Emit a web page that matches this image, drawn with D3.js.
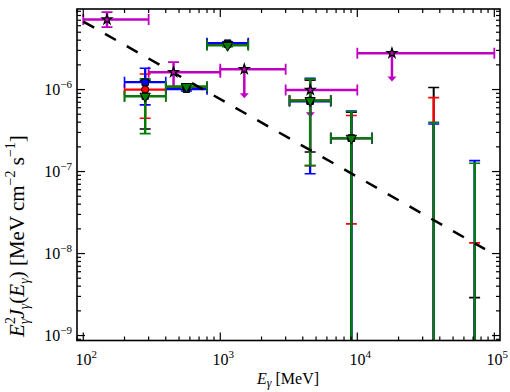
<!DOCTYPE html>
<html>
<head>
<meta charset="utf-8">
<script src="https://cdn.jsdelivr.net/npm/d3@7"></script>
<style>
  body { margin: 0; background: #fff; }
  text { font-family: "Liberation Serif", "Times New Roman", serif; fill: #000; }
</style>
</head>
<body>
<div id="chart"></div>
<script>
// energy bins shared by the four analyses (MeV)
var binE = [283, 566, 1131, 4525, 9050, 36100, 71800]
var binLo = [200, 400, 800, 3200, 6400, null, null]
var binHi = [400, 800, 1600, 6400, 12800, null, null]

// E^2 J values, upper and lower error ends (1e-10 = runs off the bottom)
var blackF = [8.3e-7, 1.06e-6, 3.58e-6, 7.34e-7, 2.55e-7, null, null]
var blackUp = [1.3e-6, 1.11e-6, 3.72e-6, 1.3e-6, 5.3e-7, 1.06e-6, 2.9e-9]
var blackDn = [3.3e-7, 1.01e-6, 3.45e-6, 1.73e-7, 1e-10, 1e-10, 1e-10]

var redF = [1.0e-6, 1.05e-6, 3.58e-6, 7.34e-7, 2.55e-7, null, null]
var redUp = [1.55e-6, 1.1e-6, 3.72e-6, 1.33e-6, 4.82e-7, 7.98e-7, 1.35e-8]
var redDn = [4.47e-7, 1.0e-6, 3.45e-6, 1.18e-7, 2.3e-8, 1e-10, 1e-10]

var blueF = [1.23e-6, 1.01e-6, 3.68e-6, 7.2e-7, 2.55e-7, null, null]
var blueUp = [1.82e-6, 1.06e-6, 3.82e-6, 1.37e-6, 5.45e-7, 3.8e-7, 1.36e-7]
var blueDn = [6.5e-7, 0.96e-6, 3.55e-6, 9.4e-8, 1e-10, 1e-10, 1e-10]

var greenF = [8.3e-7, 1.09e-6, 3.46e-6, 7.34e-7, 2.55e-7, null, null]
var greenUp = [1.35e-6, 1.14e-6, 3.6e-6, 1.34e-6, 5.4e-7, 4.0e-7, 1.26e-7]
var greenDn = [2.9e-7, 1.04e-6, 3.33e-6, 1.18e-7, 1e-10, 1e-10, 1e-10]

// magenta points (stars), some are upper limits
var magE = [149, 456, 1497, 4540, 17900]
var magLo = [100, 300, 1000, 3000, 10000]
var magHi = [300, 1000, 3000, 10000, 100000]
var magF = [7.15e-6, 1.63e-6, 1.77e-6, 9.9e-7, 2.78e-6]
var magUp = [8.8e-6, 2.16e-6, null, null, null]
var magDn = [5.77e-6, 1.07e-6, null, null, null]
var magUL = [null, null, 7.85e-7, 4.6e-7, 1.25e-6]

// dashed power-law model
var modelE = [100, 85500]
var modelF = [6.75e-6, 1.13e-8]

var xTicks = [1e2, 1e3, 1e4, 1e5]
var yTicks = [1e-9, 1e-8, 1e-7, 1e-6]

var W = 510, H = 392
var plot = { left: 77, right: 500, top: 9, bottom: 340.5 }

var svg = d3.select('#chart').append('svg')
  .attr('width', W).attr('height', H)

var x = d3.scaleLog().domain([90, 1.1e5]).range([plot.left, plot.right])
var y = d3.scaleLog().domain([8.7e-10, 9.6e-6]).range([plot.bottom, plot.top])

svg.append('clipPath').attr('id', 'clip')
  .append('rect')
  .attr('x', plot.left).attr('y', plot.top)
  .attr('width', plot.right - plot.left).attr('height', plot.bottom - plot.top)

var g = svg.append('g').attr('clip-path', 'url(#clip)')
var gLines = g.append('g')
var gModel = g.append('g')
var gMarks = g.append('g')

var capW = 5.5

function inY(v) { return v > y.domain()[0] && v < y.domain()[1] }

function errLines(F, up, dn, color, lw) {
  for (var i = 0; i < binE.length; i++) {
    var cx = x(binE[i])
    gLines.append('line')
      .attr('x1', cx).attr('x2', cx)
      .attr('y1', y(up[i])).attr('y2', y(dn[i]))
      .attr('stroke', color).attr('stroke-width', lw)
    ;[up[i], dn[i]].forEach(function (v) {
      if (!inY(v)) return
      gLines.append('line')
        .attr('x1', cx - capW).attr('x2', cx + capW)
        .attr('y1', y(v)).attr('y2', y(v))
        .attr('stroke', color).attr('stroke-width', 1.6)
    })
    if (F[i] == null || binLo[i] == null) continue
    var cy = y(F[i])
    gLines.append('line')
      .attr('x1', x(binLo[i])).attr('x2', x(binHi[i]))
      .attr('y1', cy).attr('y2', cy)
      .attr('stroke', color).attr('stroke-width', lw)
    ;[binLo[i], binHi[i]].forEach(function (v) {
      gLines.append('line')
        .attr('x1', x(v)).attr('x2', x(v))
        .attr('y1', cy - capW).attr('y2', cy + capW)
        .attr('stroke', color).attr('stroke-width', 1.6)
    })
  }
}

function errMarkers(F, color, type, size, rot) {
  for (var i = 0; i < binE.length; i++) {
    if (F[i] == null) continue
    gMarks.append('path')
      .attr('d', d3.symbol().type(type).size(size)())
      .attr('transform', 'translate(' + x(binE[i]) + ',' + y(F[i]) + ') rotate(' + rot + ')')
      .attr('fill', color).attr('stroke', '#000').attr('stroke-width', 1)
  }
}

// magenta bars and upper limits
var MAG = '#c000c0'
for (var i = 0; i < magE.length; i++) {
  var cx = x(magE[i]), cy = y(magF[i])
  gLines.append('line')
    .attr('x1', x(magLo[i])).attr('x2', x(magHi[i]))
    .attr('y1', cy).attr('y2', cy)
    .attr('stroke', MAG).attr('stroke-width', 2.5)
  ;[magLo[i], magHi[i]].forEach(function (v) {
    gLines.append('line')
      .attr('x1', x(v)).attr('x2', x(v))
      .attr('y1', cy - capW).attr('y2', cy + capW)
      .attr('stroke', MAG).attr('stroke-width', 1.8)
  })
  if (magUL[i] == null) {
    gLines.append('line')
      .attr('x1', cx).attr('x2', cx)
      .attr('y1', y(magUp[i])).attr('y2', y(magDn[i]))
      .attr('stroke', MAG).attr('stroke-width', 2.5)
    ;[magUp[i], magDn[i]].forEach(function (v) {
      gLines.append('line')
        .attr('x1', cx - capW).attr('x2', cx + capW)
        .attr('y1', y(v)).attr('y2', y(v))
        .attr('stroke', MAG).attr('stroke-width', 1.8)
    })
  } else {
    var ye = y(magUL[i])
    gLines.append('line')
      .attr('x1', cx).attr('x2', cx)
      .attr('y1', cy).attr('y2', ye - 3)
      .attr('stroke', MAG).attr('stroke-width', 2.5)
    gLines.append('path')
      .attr('d', 'M' + (cx - 4.5) + ',' + (ye - 5) + 'L' + (cx + 4.5) + ',' + (ye - 5) + 'L' + cx + ',' + ye + 'Z')
      .attr('fill', MAG)
  }
}

errLines(blackF, blackUp, blackDn, '#000', 2)
errLines(redF, redUp, redDn, '#ff0000', 2.3)
errLines(blueF, blueUp, blueDn, '#0000ff', 2.3)
errLines(greenF, greenUp, greenDn, '#008000', 2.3)

// model line
gModel.append('path')
  .datum(modelE.map(function (e, k) { return [e, modelF[k]] }))
  .attr('d', d3.line().x(function (d) { return x(d[0]) }).y(function (d) { return y(d[1]) }))
  .attr('fill', 'none').attr('stroke', '#000').attr('stroke-width', 2.5)
  .attr('stroke-dasharray', '12.5,12.5')

errMarkers(redF, '#ff0000', d3.symbolCircle, 42, 0)
errMarkers(blueF, '#0000ff', d3.symbolSquare, 42, 0)
errMarkers(blackF, '#000', d3.symbolSquare, 40, 0)
errMarkers(greenF, '#008000', d3.symbolTriangle, 46, 180)

for (var i = 0; i < magE.length; i++) {
  gMarks.append('path')
    .attr('d', d3.symbol().type(d3.symbolStar).size(30)())
    .attr('transform', 'translate(' + x(magE[i]) + ',' + y(magF[i]) + ')')
    .attr('fill', MAG).attr('stroke', '#000').attr('stroke-width', 1.2)
}

// frame and ticks (inward, on all sides)
var ax = svg.append('g')
x.ticks().forEach(function (t) {
  var major = xTicks.indexOf(t) >= 0
  var len = major ? 8 : 4
  ax.append('line').attr('x1', x(t)).attr('x2', x(t))
    .attr('y1', plot.bottom).attr('y2', plot.bottom - len)
    .attr('stroke', '#000').attr('stroke-width', 1.2)
  ax.append('line').attr('x1', x(t)).attr('x2', x(t))
    .attr('y1', plot.top).attr('y2', plot.top + len)
    .attr('stroke', '#000').attr('stroke-width', 1.2)
})
y.ticks().forEach(function (t) {
  var major = yTicks.some(function (m) { return Math.abs(m - t) / m < 1e-6 })
  var len = major ? 8 : 4
  ax.append('line').attr('y1', y(t)).attr('y2', y(t))
    .attr('x1', plot.left).attr('x2', plot.left + len)
    .attr('stroke', '#000').attr('stroke-width', 1.2)
  ax.append('line').attr('y1', y(t)).attr('y2', y(t))
    .attr('x1', plot.right).attr('x2', plot.right - len)
    .attr('stroke', '#000').attr('stroke-width', 1.2)
})
ax.append('rect')
  .attr('x', plot.left).attr('y', plot.top)
  .attr('width', plot.right - plot.left).attr('height', plot.bottom - plot.top)
  .attr('fill', 'none').attr('stroke', '#000').attr('stroke-width', 1.6)

// tick labels
xTicks.forEach(function (t) {
  var tx = ax.append('text').attr('x', x(t) + 3).attr('y', 365)
    .attr('text-anchor', 'middle').attr('font-size', 16)
  tx.append('tspan').text('10')
  tx.append('tspan').attr('font-size', 11).attr('dy', -7).text(Math.round(Math.log10(t)))
})
yTicks.forEach(function (t) {
  var ty = ax.append('text').attr('x', 72).attr('y', y(t) + 5.5)
    .attr('text-anchor', 'end').attr('font-size', 16)
  ty.append('tspan').text('10')
  ty.append('tspan').attr('font-size', 11).attr('dy', -7).text('\u2212' + Math.round(-Math.log10(t)))
})

// axis titles
var xl = svg.append('text').attr('x', 288).attr('y', 384)
  .attr('text-anchor', 'middle').attr('font-size', 16)
xl.append('tspan').attr('font-style', 'italic').text('E')
xl.append('tspan').attr('font-size', 12).attr('font-style', 'italic').attr('dy', 3).text('γ')
xl.append('tspan').attr('dy', -3).text(' [MeV]')

var yl = svg.append('text')
  .attr('transform', 'translate(24,236) rotate(-90)')
  .attr('text-anchor', 'middle').attr('font-size', 21)
yl.append('tspan').attr('font-style', 'italic').text('E')
yl.append('tspan').attr('font-size', 14).attr('dy', -9).text('2')
yl.append('tspan').attr('font-size', 14).attr('font-style', 'italic').attr('dx', -7).attr('dy', 14).text('γ')
yl.append('tspan').attr('font-style', 'italic').attr('dy', -5).text('J')
yl.append('tspan').attr('font-size', 14).attr('font-style', 'italic').attr('dy', 5).text('γ')
yl.append('tspan').attr('dy', -5).text('(')
yl.append('tspan').attr('font-style', 'italic').text('E')
yl.append('tspan').attr('font-size', 14).attr('font-style', 'italic').attr('dy', 5).text('γ')
yl.append('tspan').attr('dy', -5).text(') [MeV cm')
yl.append('tspan').attr('font-size', 14).attr('dy', -9).text('\u22122')
yl.append('tspan').attr('dy', 9).text(' s')
yl.append('tspan').attr('font-size', 14).attr('dy', -9).text('\u22121')
yl.append('tspan').attr('dy', 9).text(']')
</script>
</body>
</html>
